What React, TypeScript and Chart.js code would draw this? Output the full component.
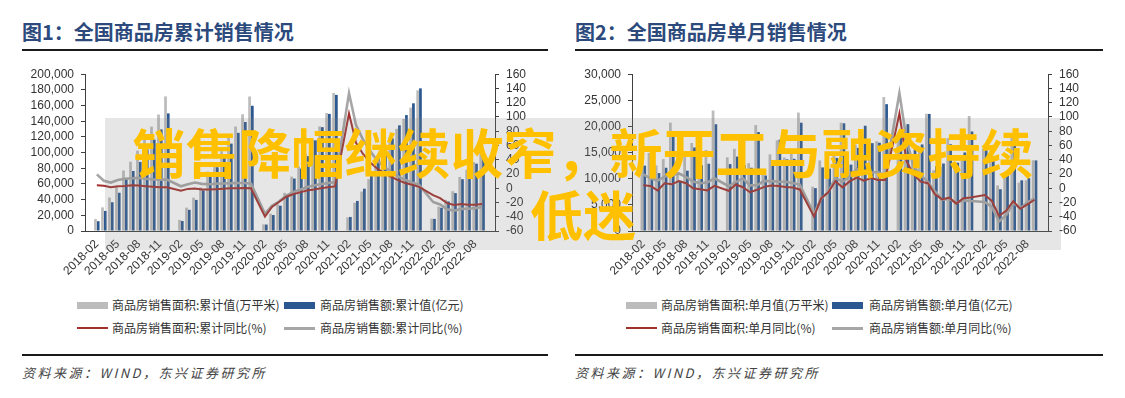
import React, { useEffect, useRef } from 'react';
import { Chart, registerables } from 'chart.js';

Chart.register(...registerables);

const categories = [
  '2018-02', '2018-03', '2018-04', '2018-05', '2018-06', '2018-07', '2018-08', '2018-09', '2018-10', '2018-11', '2018-12',
  '2019-01', '2019-02', '2019-03', '2019-04', '2019-05', '2019-06', '2019-07', '2019-08', '2019-09', '2019-10', '2019-11', '2019-12',
  '2020-01', '2020-02', '2020-03', '2020-04', '2020-05', '2020-06', '2020-07', '2020-08', '2020-09', '2020-10', '2020-11', '2020-12',
  '2021-01', '2021-02', '2021-03', '2021-04', '2021-05', '2021-06', '2021-07', '2021-08', '2021-09', '2021-10', '2021-11', '2021-12',
  '2022-01', '2022-02', '2022-03', '2022-04', '2022-05', '2022-06', '2022-07', '2022-08', '2022-09',
];

// Figure 1: cumulative
const cumArea = [
  15193, 30129, 42666, 56420, 77143, 88330, 102465, 119298, 133118, 148608, 171654,
  null, 14102, 29829, 42538, 55518, 75786, 87180, 101849, 119179, 133251, 148905, 171558,
  null, 8475, 21978, 33973, 48688, 69404, 81957, 98486, 117073, 133294, 150464, 176086,
  null, 17363, 36007, 50278, 66194, 88635, 100275, 112568, 130332, 143041, 157431, 179433,
  null, 15703, 31046, 39768, 50738, 68923, 78178, 87890, 101422,
];
const cumValue = [
  12507, 25605, 36695, 48796, 66945, 76566, 88102, 104091, 116678, 129549, 149973,
  null, 12803, 27039, 39667, 51773, 70698, 81313, 94005, 111481, 125195, 139006, 159725,
  null, 8203, 20365, 32289, 46283, 66895, 79599, 95509, 115647, 132456, 149346, 173613,
  null, 17936, 38380, 53975, 70534, 92931, 105298, 118203, 134795, 147851, 162880, 181930,
  null, 15459, 29655, 37648, 48337, 66072, 75763, 85871, 99380,
];
const cumAreaYoy = [
  4.1, 3.6, 1.3, 2.9, 3.3, 4.2, 4.0, 2.9, 2.2, 1.4, 1.3,
  null, -3.6, -0.9, -0.3, -1.6, -1.8, -1.3, -0.6, -0.1, 0.1, 0.2, -0.1,
  null, -39.9, -26.3, -19.3, -12.3, -8.4, -5.8, -3.3, -1.8, 0.0, 1.3, 2.6,
  null, 104.9, 63.8, 48.1, 36.3, 27.7, 21.5, 15.9, 11.3, 7.3, 4.8, 1.9,
  null, -9.6, -13.8, -20.9, -23.6, -22.2, -23.1, -23.0, -22.2,
];
const cumValueYoy = [
  19.5, 10.4, 8.0, 11.5, 13.2, 14.1, 14.5, 13.3, 12.5, 12.1, 12.2,
  null, 2.8, 5.6, 8.1, 6.1, 5.6, 6.2, 6.7, 7.1, 7.3, 7.3, 6.5,
  null, -35.9, -24.7, -18.6, -10.6, -5.4, -2.1, 1.6, 3.7, 5.8, 7.2, 8.7,
  null, 133.4, 88.5, 68.2, 52.4, 38.9, 30.7, 22.9, 16.6, 11.8, 8.0, 4.8,
  null, -19.3, -22.7, -29.5, -31.5, -28.9, -28.8, -27.9, -26.3,
];

// Figure 2: single month
const monthArea = [
  15193, 14936, 12537, 13754, 20723, 11187, 14135, 16833, 13820, 15490, 23046,
  null, 14102, 15727, 12709, 12980, 20268, 11394, 14669, 17330, 14072, 15654, 22653,
  null, 8475, 13503, 11995, 14715, 20716, 12553, 16529, 18587, 16221, 17170, 25622,
  null, 17363, 18644, 14271, 15916, 22441, 11640, 12293, 17764, 12709, 14390, 22002,
  null, 15703, 15343, 8722, 10970, 18185, 9255, 9712, 13532,
];
const monthValue = [
  12507, 13098, 11090, 12101, 18149, 9621, 11536, 15989, 12587, 12871, 20424,
  null, 12803, 14236, 12628, 12106, 18925, 10615, 12692, 17476, 13714, 13811, 20719,
  null, 8203, 12162, 11924, 13994, 20612, 12704, 15910, 20138, 16809, 16890, 24267,
  null, 17936, 20444, 15595, 16559, 22397, 12367, 12905, 16592, 13056, 15029, 19050,
  null, 15459, 14196, 7993, 10689, 17735, 9691, 10108, 13509,
];
const monthAreaYoy = [
  4.1, 3.2, -3.1, 7.0, 5.5, 10.0, 7.0, 0.0, -1.3, -3.1, 3.3,
  null, -3.6, 5.3, 1.4, -5.6, -2.2, 1.9, 3.8, 3.0, 1.8, 1.1, -1.7,
  null, -39.9, -14.1, -5.6, 9.7, 1.2, 9.6, 14.8, 10.5, 14.3, 11.5, 11.5,
  null, 104.9, 38.0, 19.0, 9.2, 7.0, -8.5, -15.6, -13.2, -21.6, -14.0, -13.0,
  null, -9.6, -17.7, -39.0, -31.8, -18.3, -28.9, -22.6, -16.2,
];
const monthValueYoy = [
  19.5, 14.0, 10.6, 16.0, 18.4, 20.7, 16.0, 9.3, 7.0, 8.0, 14.0,
  null, 2.8, 8.7, 13.9, 4.0, 4.3, 10.3, 10.0, 9.3, 9.0, 7.3, 5.0,
  null, -35.9, -14.6, -5.6, 14.7, 8.9, 16.6, 27.1, 22.5, 21.7, 22.7, 17.7,
  null, 133.4, 68.1, 30.8, 18.3, 9.0, -4.5, -16.0, -15.0, -20.5, -17.0, -18.0,
  null, -19.3, -26.2, -46.6, -37.7, -20.8, -28.2, -19.9, -14.2,
];

const legendCum = [
  '商品房销售面积:累计值(万平米)',
  '商品房销售额:累计值(亿元)',
  '商品房销售面积:累计同比(%)',
  '商品房销售额:累计同比(%)',
];
const legendMonth = [
  '商品房销售面积:单月值(万平米)',
  '商品房销售额:单月值(亿元)',
  '商品房销售面积:单月同比(%)',
  '商品房销售额:单月同比(%)',
];
const bannerLines = ['销售降幅继续收窄，新开工与融资持续', '低迷'];

const GRAY_BAR = '#BCBCBC';
const BLUE_BAR = '#2B5891';
const RED_LINE = '#A3302C';
const GRAY_LINE = '#A6A6A6';
const AXIS = '#404040';
const TICK_FONT = { family: '"Liberation Sans", Arial, sans-serif', size: 12 };

type PanelProps = {
  areaBars: (number | null)[];
  valueBars: (number | null)[];
  areaYoy: (number | null)[];
  valueYoy: (number | null)[];
  leftMax: number;
  leftStep: number;
  xMin: number;
  xMax: number;
  leftW: number;
  rightW: number;
  width: number;
  height: number;
  left: number;
  top: number;
};

const pts = (arr: (number | null)[]) => arr.map((v, i) => ({ x: i, y: v }));

function ChartPanel(p: PanelProps) {
  const ref = useRef<HTMLCanvasElement | null>(null);
  useEffect(() => {
    if (!ref.current) return;
    const xH = p.height - 171;
    const chart = new Chart(ref.current, {
      type: 'bar',
      data: {
        datasets: [
          {
            type: 'line', data: pts(p.areaYoy), yAxisID: 'y1', borderColor: RED_LINE,
            borderWidth: 2, pointRadius: 0, spanGaps: true, order: 0, tension: 0,
          } as any,
          {
            type: 'line', data: pts(p.valueYoy), yAxisID: 'y1', borderColor: GRAY_LINE,
            borderWidth: 2.6, pointRadius: 0, spanGaps: true, order: 1, tension: 0,
          } as any,
          {
            type: 'bar', data: pts(p.areaBars), yAxisID: 'y', backgroundColor: GRAY_BAR,
            categoryPercentage: 0.78, barPercentage: 1, order: 2, clip: false,
          } as any,
          {
            type: 'bar', data: pts(p.valueBars), yAxisID: 'y', backgroundColor: BLUE_BAR,
            categoryPercentage: 0.78, barPercentage: 1, order: 3, clip: false,
          } as any,
        ],
      },
      options: {
        responsive: false,
        animation: false,
        devicePixelRatio: 1,
        layout: { padding: { top: 12, left: 0, right: 0, bottom: 0 } },
        plugins: { legend: { display: false }, tooltip: { enabled: false } },
        scales: {
          x: {
            type: 'linear',
            min: p.xMin,
            max: p.xMax,
            grid: { display: false, drawTicks: false },
            border: { display: true, color: AXIS, width: 1 },
            ticks: {
              stepSize: 3,
              autoSkip: false,
              includeBounds: false,
              maxRotation: 45,
              minRotation: 45,
              padding: 6,
              color: '#333',
              font: TICK_FONT,
              callback: (v: any) => {
                const i = Math.round(Number(v));
                return categories[i] ?? '';
              },
            },
            afterFit: (s: any) => { s.height = xH; },
          },
          y: {
            position: 'left',
            min: 0,
            max: p.leftMax,
            grid: { drawOnChartArea: false, drawTicks: true, tickLength: 4, color: AXIS },
            border: { display: true, color: AXIS, width: 1 },
            ticks: {
              stepSize: p.leftStep,
              autoSkip: false,
              padding: 7,
              color: '#333',
              font: TICK_FONT,
              callback: (v: any) => Number(v).toLocaleString('en-US'),
            },
            afterFit: (s: any) => { s.width = p.leftW; },
          },
          y1: {
            position: 'right',
            min: -60,
            max: 160,
            grid: { drawOnChartArea: false, drawTicks: true, tickLength: 4, color: AXIS },
            border: { display: true, color: AXIS, width: 1 },
            ticks: { stepSize: 20, autoSkip: false, padding: 7, color: '#333', font: TICK_FONT },
            afterFit: (s: any) => { s.width = p.rightW; },
          },
        },
      } as any,
    });
    return () => chart.destroy();
  }, []);
  return (
    <canvas
      ref={ref}
      width={p.width}
      height={p.height}
      style={{ position: 'absolute', left: p.left, top: p.top, width: p.width, height: p.height }}
    />
  );
}

const CJK = '"Noto Sans CJK SC", "Noto Sans", sans-serif';

function Legend({ left, labels, x2, t1, t2 }: { left: number; labels: string[]; x2: number; t1: number; t2: number }) {
  const sw = (x: number, y: number, h: number, c: string) => (
    <div style={{ position: 'absolute', left: x, top: y - h / 2, width: 31, height: h, background: c }} />
  );
  const txt = (x: number, y: number, s: string) => (
    <div style={{ position: 'absolute', left: x, top: y - 9, height: 18, lineHeight: '18px', fontFamily: CJK, fontSize: 12, color: '#333', whiteSpace: 'nowrap' }}>{s}</div>
  );
  const r1 = 305;
  const r2 = 328;
  return (
    <>
      {sw(left, r1, 7, GRAY_BAR)}
      {txt(left + t1, r1, labels[0])}
      {sw(x2, r1, 7, BLUE_BAR)}
      {txt(x2 + t2, r1, labels[1])}
      {sw(left, r2, 2.5, RED_LINE)}
      {txt(left + t1, r2, labels[2])}
      {sw(x2, r2, 3, GRAY_LINE)}
      {txt(x2 + t2, r2, labels[3])}
    </>
  );
}

function Frame({ x, w, title }: { x: number; w: number; title: string }) {
  return (
    <>
      <div style={{ position: 'absolute', left: x, top: 20, height: 24, lineHeight: '24px', fontFamily: CJK, fontWeight: 700, fontSize: 20, color: '#2C4A7C', whiteSpace: 'nowrap' }}>{title}</div>
      <div style={{ position: 'absolute', left: x, top: 49, width: w, height: 2, background: '#1a1a1a' }} />
      <div style={{ position: 'absolute', left: x, top: 354, width: w, height: 2, background: '#1a1a1a' }} />
      <div style={{ position: 'absolute', left: x, top: 364, height: 18, lineHeight: '18px', fontFamily: CJK, fontStyle: 'italic', fontSize: 13, letterSpacing: 2.5, color: '#444', whiteSpace: 'nowrap' }}>
        资料来源：WIND，东兴证券研究所
      </div>
    </>
  );
}

export default function App() {
  return (
    <div style={{ position: 'fixed', left: 0, top: 0, width: 1125, height: 398, background: '#fff', overflow: 'hidden' }}>
      <Frame x={22} w={526} title="图1：全国商品房累计销售情况" />
      <Frame x={575} w={528} title="图2：全国商品房单月销售情况" />
      <ChartPanel
        areaBars={cumArea} valueBars={cumValue} areaYoy={cumAreaYoy} valueYoy={cumValueYoy}
        leftMax={200000} leftStep={20000} xMin={-0.15} xMax={55.3}
        leftW={65} rightW={45} width={520} height={230} left={20} top={60}
      />
      <ChartPanel
        areaBars={monthArea} valueBars={monthValue} areaYoy={monthAreaYoy} valueYoy={monthValueYoy}
        leftMax={30000} leftStep={5000} xMin={-0.05} xMax={55.35}
        leftW={62} rightW={52} width={530} height={230} left={570} top={60}
      />
      <Legend left={77} labels={legendCum} x2={284} t1={35} t2={36} />
      <Legend left={626} labels={legendMonth} x2={832} t1={35} t2={37} />
      <div style={{ position: 'absolute', left: 105, top: 118, width: 956, height: 132, background: 'rgba(128,128,128,0.2)' }}>
        <div style={{ paddingTop: 2, textAlign: 'center', color: '#FFC000', fontFamily: CJK, fontWeight: 700, fontSize: 53, lineHeight: '62px', whiteSpace: 'nowrap' }}>
          {bannerLines[0]}
          <br />
          {bannerLines[1]}
        </div>
      </div>
    </div>
  );
}
